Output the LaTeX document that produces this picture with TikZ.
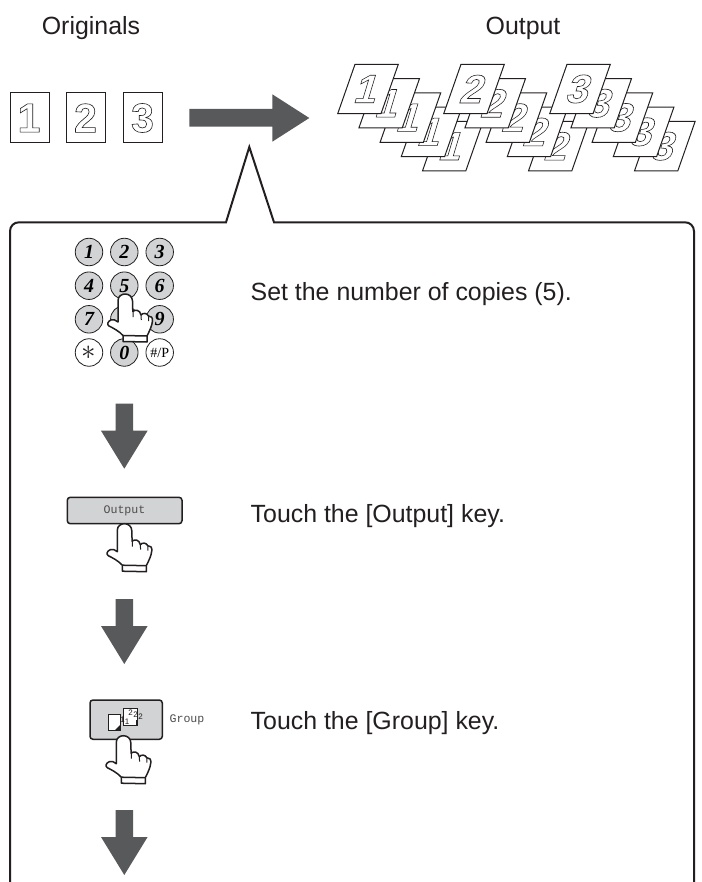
\documentclass[tikz,border=0pt]{standalone}
\usepackage{fontspec}
\setmainfont{Liberation Sans}
\newfontfamily\monof{Liberation Mono}
\newfontfamily\serifbi{Liberation Serif}
\newfontfamily\digitf{Liberation Sans}
\definecolor{ink}{HTML}{231F20}
\definecolor{arrowgray}{HTML}{58595B}
\definecolor{keygray}{HTML}{D1D3D4}
\newcommand{\outlined}[1]{\special{pdf:code 1 Tr 0.6 w}#1\special{pdf:code 0 Tr 1 w}}
\tikzset{
  x=1pt,y=-1pt,
  sheet/.style={draw=ink,fill=white,line width=1pt,line join=miter},
  callout/.style={draw=ink,line width=2pt,fill=none,line join=miter},
  bigarrow/.style={fill=arrowgray,draw=none},
  keyg/.style={circle,draw=ink,line width=0.8pt,fill=keygray,minimum size=27.5pt,inner sep=0pt,font=\serifbi\bfseries\itshape\fontsize{20}{20}\selectfont},
  keyw/.style={keyg,fill=white},
  caption/.style={font=\fontsize{24.9}{28}\selectfont,text=ink,anchor=base west,inner sep=0pt},
  heading/.style={font=\fontsize{24.9}{28}\selectfont,text=ink,inner sep=0pt},
  softkey/.style={draw=ink,line width=1.5pt,fill=keygray,rounded corners=3pt},
  monotext/.style={font=\monof\fontsize{11.6}{12}\selectfont,text=ink!80,inner sep=0pt},
  icontext/.style={font=\fontsize{8}{8}\selectfont,text=ink,inner sep=0pt},
  origdigit/.style={font=\digitf\bfseries\fontsize{41}{41}\selectfont,inner sep=0pt,text=ink},
  hand/.pic={
    \draw[ink,fill=white,line width=1.5pt,line join=round]
      (-7,6.5) .. controls (-7,2) and (-3,0) .. (0,0)
      .. controls (4,0) and (7.3,2.5) .. (7.5,7)
      -- (7.8,17.5) .. controls (10,15.5) and (15,15.5) .. (16,21)
      .. controls (18,18.5) and (22,19) .. (23.5,22)
      .. controls (26,21.5) and (28,24) .. (27.5,27)
      .. controls (27,32) and (24.5,37) .. (22,42)
      -- (22,48) -- (-2,47.5) -- (-2,41.5)
      .. controls (-6,37) and (-12,34) .. (-16,32)
      .. controls (-18.5,30.5) and (-17,27) .. (-14,26)
      .. controls (-12,25) and (-9,26) .. (-7,28)
      -- cycle;
    \draw[ink,line width=1.5pt] (-2,41.5) -- (22,42);
    \draw[ink,line width=1pt] (8,17.5) -- (8,23) (16,21) -- (16.3,26) (23.5,22) -- (23.5,27);
  },
  pics/downarrow/.style={code={
    \fill[arrowgray] (-8.8,0) -- (8.8,0) -- (8.8,27) -- (23.3,27) -- (0,65) -- (-23.3,27) -- (-8.8,27) -- cycle;
  }}
}
\begin{document}
\begin{tikzpicture}
\useasboundingbox (0,0) rectangle (701,882);
\fill[white] (0,0) rectangle (701,882);

\node[heading] (horig) at (91,28) {Originals};
\node[heading] (hout) at (523,28) {Output};

% originals
\foreach \n/\xa in {1/10,2/66.5,3/123.5}{
  \draw[ink,line width=1pt] (\xa,93) rectangle +(39,50);
  \node[origdigit] (orig\n) at (\xa+19,118) {\outlined{\n}};
}

% big arrow
\fill[bigarrow] (189.3,109) -- (272.3,109) -- (272.3,94.3) -- (309.3,118) -- (272.3,141.7) -- (272.3,126.7) -- (189.3,126.7) -- cycle;

% output sheets
\foreach \g/\gx in {1/0,2/106,3/212}{
  \foreach \k in {4,3,2,1,0}{
    \begin{scope}[shift={(\gx+21.2*\k,14.3*\k)}]
      \draw[sheet] (355,64.3) -- (398.3,64.3) -- (381,113.7) -- (337.7,113.7) -- cycle;
      \node[origdigit,font=\digitf\bfseries\fontsize{40}{40}\selectfont,xslant=0.3,transform shape] at (367.7,89) {\outlined{\g}};
    \end{scope}
  }
}

% callout
\draw[callout] (10,882) -- (10,231.3) .. controls (10,226) and (14,222.3) .. (19,222.3) -- (226,222.3) -- (249.3,147) -- (274,222.3) -- (685,222.3) .. controls (690,222.3) and (694,226) .. (694,231.3) -- (694,882);

% keypad
\node[keyg] (k1) at (89,252) {1};
\node[keyg] (k2) at (124.3,252) {2};
\node[keyg] (k3) at (159.7,252) {3};
\node[keyg] (k4) at (89,285.7) {4};
\node[keyg] (k5) at (124.3,285.7) {5};
\node[keyg] (k6) at (159.7,285.7) {6};
\node[keyg] (k7) at (89,319.3) {7};
\node[keyg] (k8) at (124.3,319.3) {};
\node[keyg] (k9) at (159.7,319.3) {9};
\node[keyw] (kstar) at (89,352.5) {};
\node[inner sep=0pt,text=ink] (kstarsign) at (kstar.center) {\scalebox{2.9}{$\ast$}};
\node[keyg] (k0) at (124.3,352.5) {0};
\node[keyw,font=\serifbi\fontsize{14}{14}\selectfont] (khash) at (159.7,352.5) {\#/P};
\pic at (125,294) {hand};

\node[caption] (t1) at (250.5,300) {Set the number of copies (5).};

\pic at (124.3,403.7) {downarrow};

% output button
\draw[softkey] (67.3,497.3) rectangle (182,523.7);
\node[monotext] (bout) at (124.5,510.5) {Output};
\pic at (124.3,523.7) {hand};
\node[caption] (t2) at (250.5,522.7) {Touch the [Output] key.};

\pic at (124.3,599) {downarrow};

% group button
\draw[softkey] (90,700) rectangle (162.3,739.3);
\draw[ink,fill=white,line width=1pt] (108,714) rectangle (120,730);
\fill[ink] (115,730) -- (120,730) -- (120,725) -- cycle;
\draw[ink,fill=white,line width=0.8pt] (123,708.5) rectangle (137,725);
\node[icontext] (g1) at (122.5,720) {1};
\node[icontext] (g2) at (127,722) {1};
\node[icontext] (g3) at (130.5,713) {2};
\node[icontext] (g4) at (135.5,715) {2};
\node[icontext] (g5) at (140.5,717) {2};
\draw[ink,line width=1.3pt] (130,725.5) -- (137,725.5) -- (137,720);
\node[monotext] (glabel) at (187,720) {Group};
\pic at (123.3,735.7) {hand};
\node[caption] (t3) at (250.5,729) {Touch the [Group] key.};

\pic at (124.3,810) {downarrow};
\end{tikzpicture}
\end{document}
